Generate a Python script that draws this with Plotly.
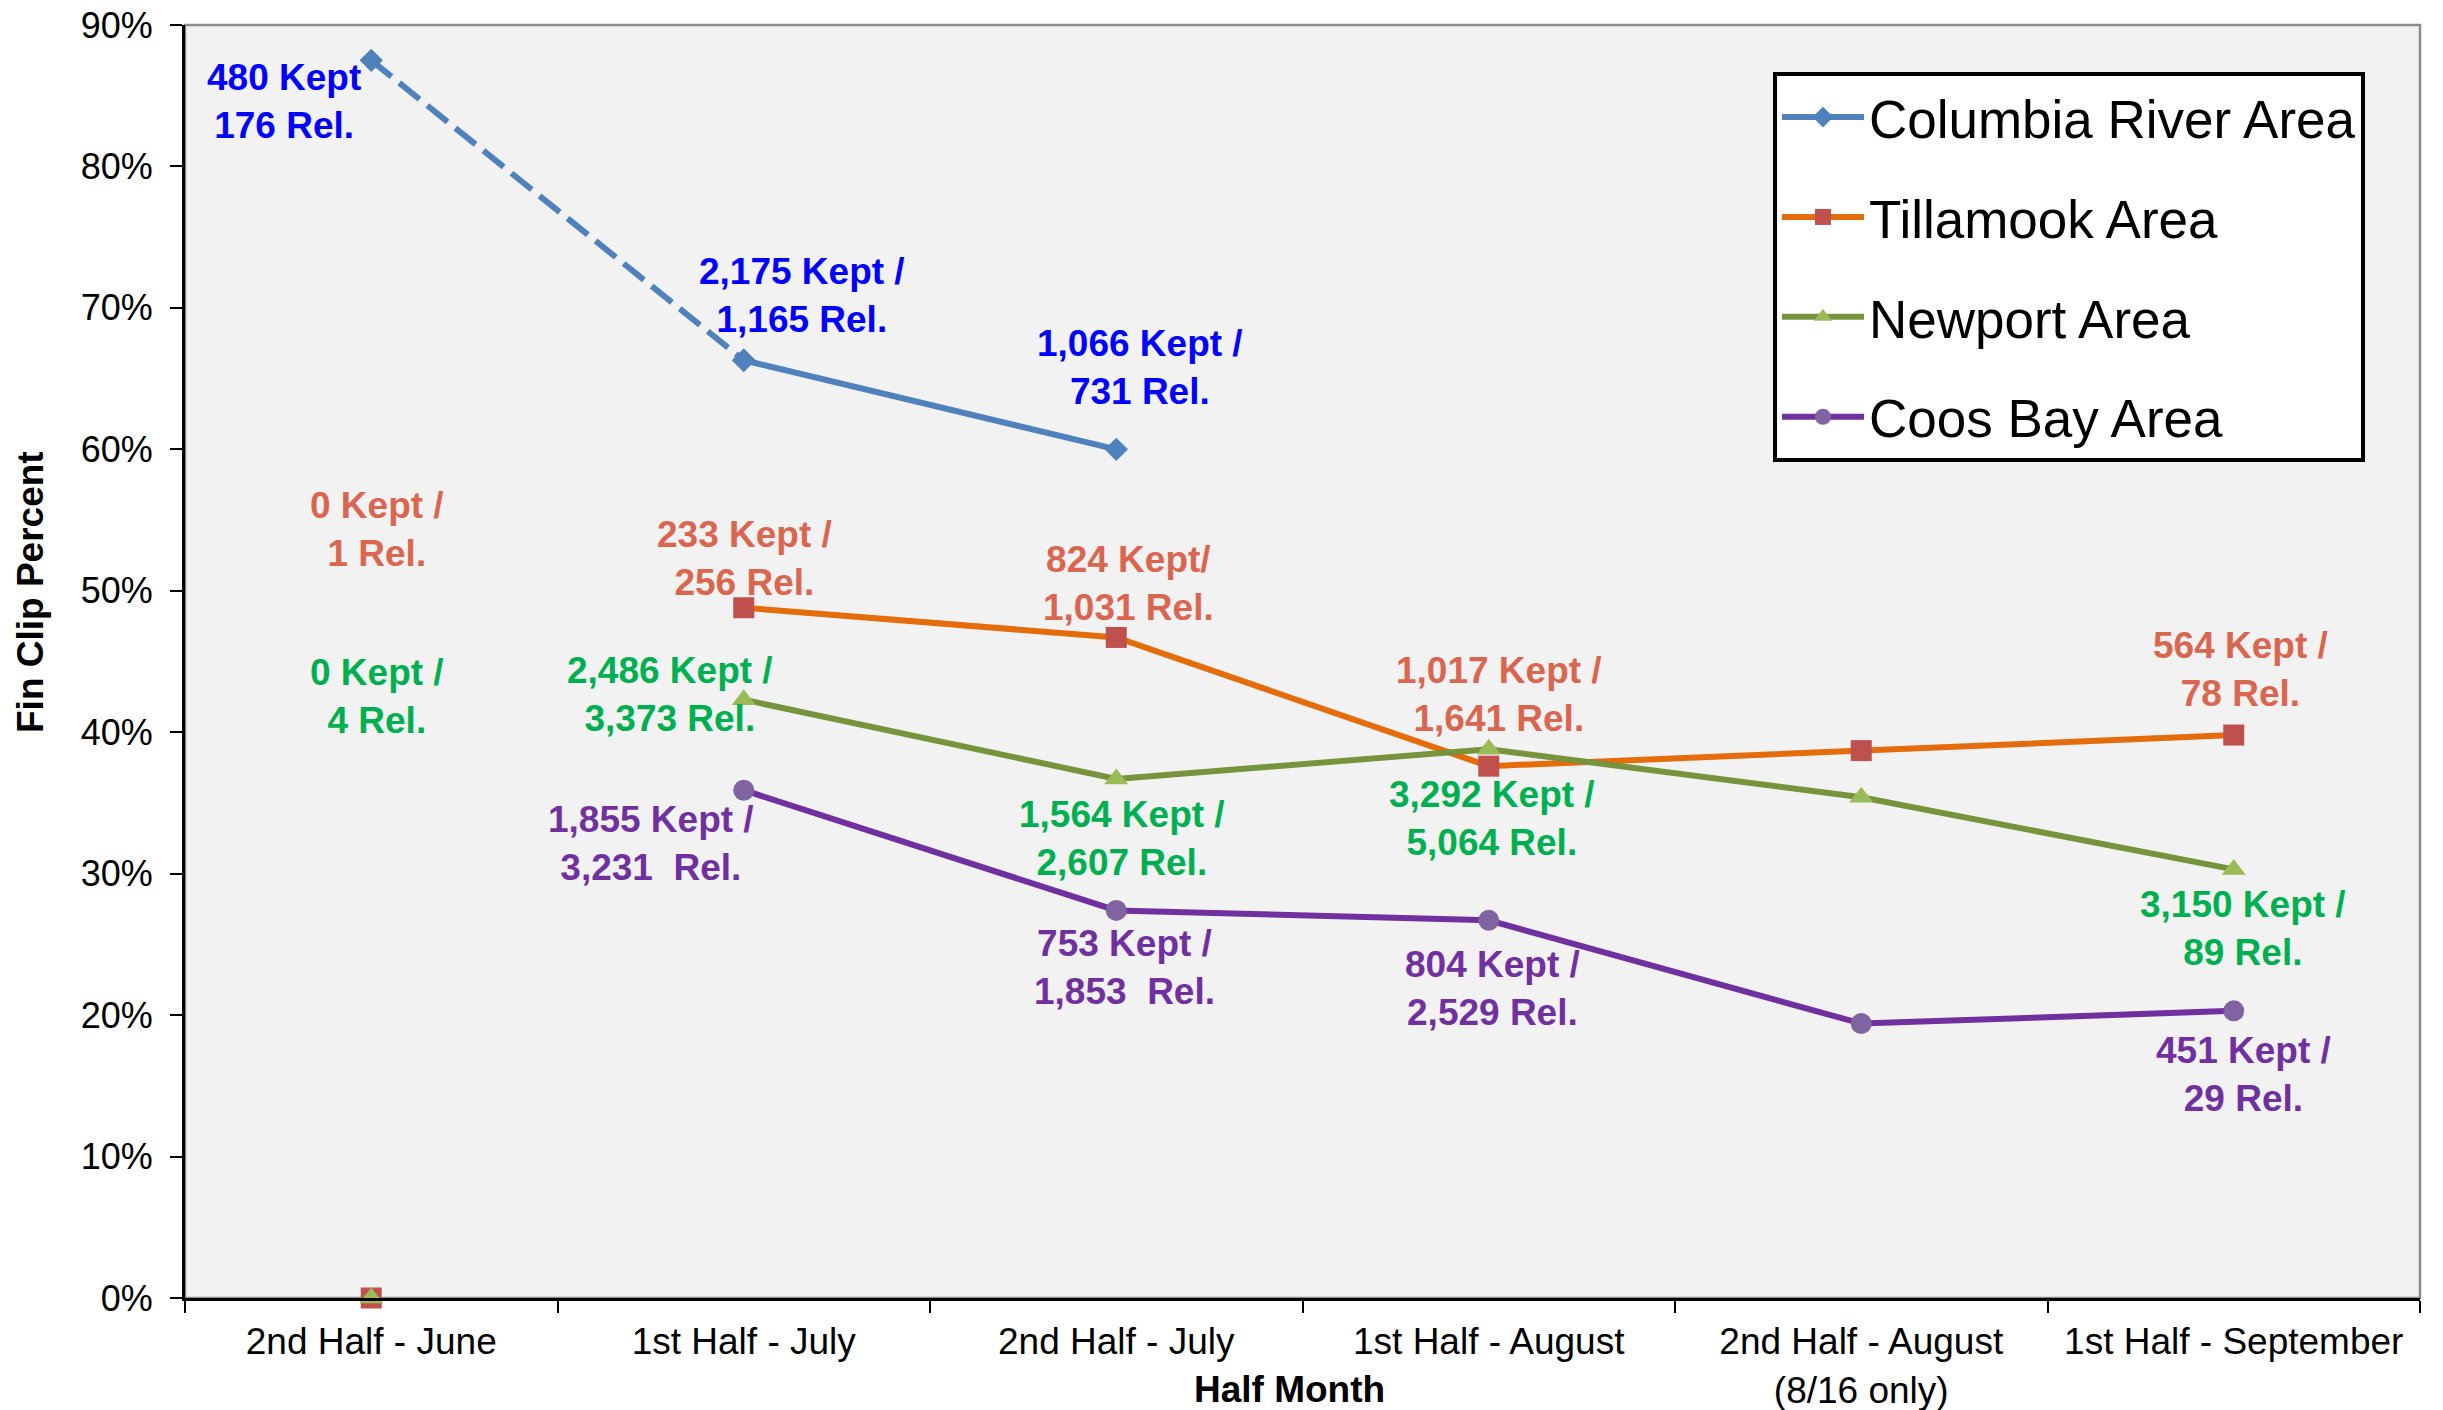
import plotly.graph_objects as go

# ---------------- data ----------------
categories = [
    "2nd Half - June",
    "1st Half - July",
    "2nd Half - July",
    "1st Half - August",
    "2nd Half - August<br>(8/16 only)",
    "1st Half - September",
]
series_names = ["Columbia River Area", "Tillamook Area", "Newport Area", "Coos Bay Area"]
columbia = [87.5, 66.3, 60.0, None, None, None]
tillamook = [0.0, 48.8, 46.7, 37.6, 38.7, 39.8]
newport = [0.0, 42.3, 36.7, 38.8, 35.4, 30.3]
coos_bay = [None, 35.9, 27.4, 26.7, 19.4, 20.3]

columbia_labels = ["480 Kept<br>176 Rel.", "2,175 Kept /<br>1,165 Rel.", "1,066 Kept /<br>731 Rel."]
tillamook_labels = ["0 Kept /<br>1 Rel.", "233 Kept /<br>256 Rel.", "824 Kept/<br>1,031 Rel.",
                    "1,017 Kept /<br>1,641 Rel.", "564 Kept /<br>78 Rel."]
newport_labels = ["0 Kept /<br>4 Rel.", "2,486 Kept /<br>3,373 Rel.", "1,564 Kept /<br>2,607 Rel.",
                  "3,292 Kept /<br>5,064 Rel.", "3,150 Kept /<br>89 Rel."]
coos_labels = ["1,855 Kept /<br>3,231  Rel.", "753 Kept /<br>1,853  Rel.",
               "804 Kept /<br>2,529 Rel.", "451 Kept /<br>29 Rel."]

y_ticks = [0, 10, 20, 30, 40, 50, 60, 70, 80, 90]

# ---------------- label placement (axis units) ----------------
columbia_label_pos = [(-0.235, 84.6), (1.157, 70.9), (2.065, 65.8)]
tillamook_label_pos = [(0.015, 54.3), (1.003, 52.3), (2.032, 50.5), (3.027, 42.7), (5.018, 44.4)]
newport_label_pos = [(0.015, 42.5), (0.802, 42.7), (2.015, 32.5), (3.010, 33.9), (5.026, 26.1)]
coos_label_pos = [(0.752, 32.1), (2.023, 23.4), (3.010, 21.9), (5.026, 15.8)]

FONT = "Liberation Sans, Arial, sans-serif"
LW = 6
MS = 21

fig = go.Figure()

def xs(idx):
    return [categories[i] for i in idx]

def ys(arr, idx):
    return [arr[i] for i in idx]

# Columbia: dashed first segment, solid after
fig.add_trace(go.Scatter(
    x=xs([0, 1]), y=ys(columbia, [0, 1]), mode="lines+markers",
    line=dict(color="#4f81bd", width=LW, dash="26px,10px"),
    marker=dict(symbol="diamond", size=18, color="#4f81bd"),
    showlegend=False, legendgroup="g1", cliponaxis=False, hoverinfo="skip"))
fig.add_trace(go.Scatter(
    x=xs([1, 2]), y=ys(columbia, [1, 2]), mode="lines+markers", name=series_names[0],
    line=dict(color="#4f81bd", width=LW),
    marker=dict(symbol="diamond", size=18, color="#4f81bd"),
    legendgroup="g1", cliponaxis=False))

# Tillamook
fig.add_trace(go.Scatter(
    x=xs(range(1, 6)), y=ys(tillamook, range(1, 6)), mode="lines+markers", name=series_names[1],
    line=dict(color="#e46c0a", width=LW),
    marker=dict(symbol="square", size=MS, color="#c0504d"),
    legendgroup="g2", cliponaxis=False))
fig.add_trace(go.Scatter(
    x=xs([0]), y=ys(tillamook, [0]), mode="markers",
    marker=dict(symbol="square", size=MS, color="#c0504d"),
    showlegend=False, legendgroup="g2", cliponaxis=False))

# Newport
fig.add_trace(go.Scatter(
    x=xs(range(1, 6)), y=ys(newport, range(1, 6)), mode="lines+markers", name=series_names[2],
    line=dict(color="#77933c", width=LW),
    marker=dict(symbol="triangle-up", size=MS, color="#9bbb59"),
    legendgroup="g3", cliponaxis=False))
fig.add_trace(go.Scatter(
    x=xs([0]), y=ys(newport, [0]), mode="markers",
    marker=dict(symbol="triangle-up", size=MS, color="#9bbb59"),
    showlegend=False, legendgroup="g3", cliponaxis=False))

# Coos Bay
fig.add_trace(go.Scatter(
    x=xs(range(1, 6)), y=ys(coos_bay, range(1, 6)), mode="lines+markers", name=series_names[3],
    line=dict(color="#7030a0", width=LW),
    marker=dict(symbol="circle", size=MS, color="#8064a2"),
    legendgroup="g4", cliponaxis=False))

annotations = []
def add_labels(texts, positions, color):
    for t, (x, y) in zip(texts, positions):
        bold = "<b>" + t.replace("<br>", "</b><br><b>") + "</b>"
        annotations.append(dict(
            x=x, y=y, xref="x", yref="y", text=bold, showarrow=False,
            font=dict(family=FONT, size=37, color=color), align="center",
            xanchor="center", yanchor="middle"))

add_labels(columbia_labels, columbia_label_pos, "#0000ff")
add_labels(tillamook_labels, tillamook_label_pos, "#da6650")
add_labels(newport_labels, newport_label_pos, "#00b050")
add_labels(coos_labels, coos_label_pos, "#7030a0")

# axis titles
annotations.append(dict(
    x=0.4944, y=-0.072, xref="paper", yref="paper", text="<b>Half Month</b>", showarrow=False,
    font=dict(family=FONT, size=37, color="#000000"), xanchor="center", yanchor="middle"))
annotations.append(dict(
    x=-0.0689, y=0.5546, xref="paper", yref="paper", text="<b>Fin Clip Percent</b>", showarrow=False,
    textangle=-90, font=dict(family=FONT, size=37, color="#000000"),
    xanchor="center", yanchor="middle"))

fig.update_layout(
    width=2443, height=1410,
    margin=dict(l=185, r=23, t=25, b=112),
    paper_bgcolor="#ffffff",
    plot_bgcolor="#f2f2f2",
    font=dict(family=FONT, size=34, color="#000000"),
    annotations=annotations,
    shapes=[dict(type="rect", xref="paper", yref="paper", x0=0, y0=0, x1=1, y1=1,
                 line=dict(color="#8c8c8c", width=2.5), layer="below")],
    legend=dict(
        x=0.7105, y=0.963, xanchor="left", yanchor="top",
        bgcolor="#ffffff", bordercolor="#000000", borderwidth=4,
        font=dict(family=FONT, size=53, color="#000000"),
        traceorder="grouped", tracegroupgap=28,
        itemwidth=82,
    ),
    xaxis=dict(
        type="category", categoryorder="array", categoryarray=categories,
        range=[-0.5, 5.5], tickson="boundaries", ticks="outside", ticklen=12,
        tickwidth=2, tickcolor="#000000",
        showline=True, linecolor="#000000", linewidth=3, showgrid=False,
        tickfont=dict(family=FONT, size=37, color="#000000"),
        ticklabelstandoff=9, automargin=False,
        zeroline=False,
    ),
    yaxis=dict(
        range=[0, 90], tickvals=y_ticks, ticktext=[f"{v}%" for v in y_ticks],
        ticks="outside", ticklen=12, tickwidth=2, tickcolor="#000000",
        showline=True, linecolor="#000000", linewidth=3, showgrid=False,
        zeroline=False, ticklabelstandoff=10, automargin=False,
        tickfont=dict(family=FONT, size=36, color="#000000"),
    ),
    showlegend=True,
)

fig.write_html("out.html", config={"displayModeBar": False},
               post_script="document.body.style.margin='0';document.body.style.padding='0';")
